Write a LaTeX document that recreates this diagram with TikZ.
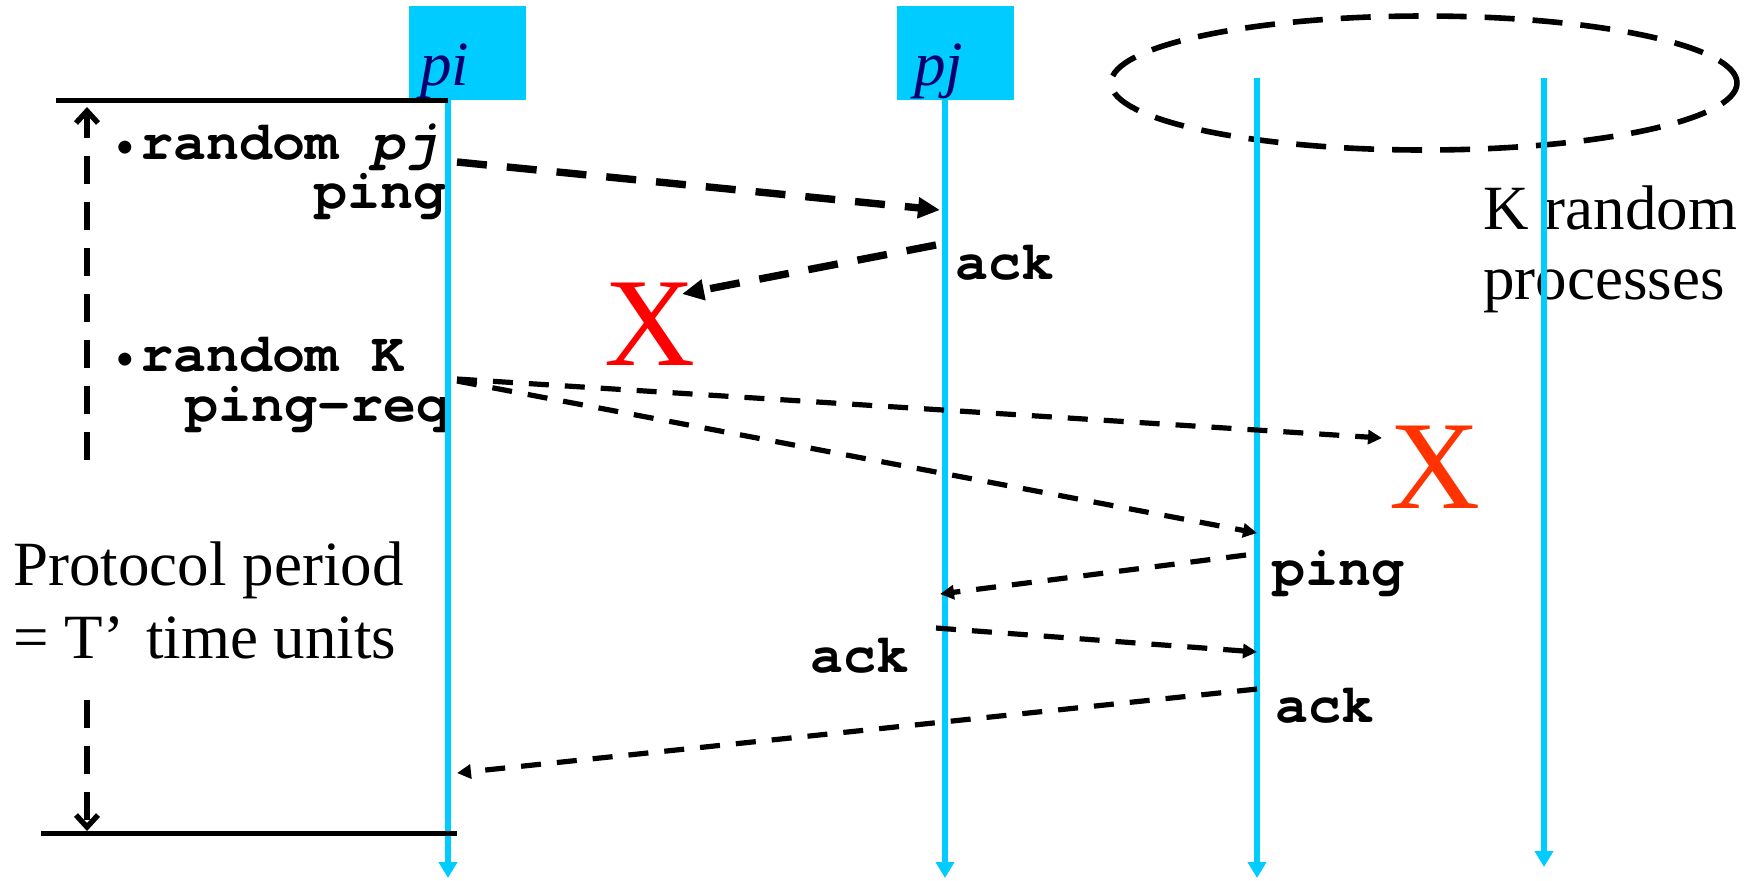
\documentclass[tikz,border=0pt]{standalone}
\usepackage{fontspec}
\setmainfont{Liberation Serif}
\setmonofont{TeX Gyre Cursor}
\usetikzlibrary{arrows.meta,shapes.geometric}
\definecolor{life}{RGB}{0,204,255}
\definecolor{navytext}{RGB}{0,0,110}
\definecolor{xred}{RGB}{255,0,0}
\definecolor{xorange}{RGB}{255,51,0}
\newcommand{\smallbul}{{\fontsize{18}{18}\selectfont\raisebox{2pt}{•}}\hspace{2pt}}
\begin{document}
\begin{tikzpicture}[x=0.5pt,y=-0.5pt,
  lifeline/.style={draw=life,line width=3pt,-{Triangle[length=8pt,width=9pt,fill=life]}},
  procbox/.style={fill=life,minimum width=58.5pt,minimum height=47pt,inner sep=0pt},
  proclabel/.style={font=\fontsize{31.5}{36}\selectfont\itshape,text=navytext,inner sep=0pt,anchor=base west},
  serif/.style={font=\fontsize{31.5}{36}\selectfont,inner sep=0pt,anchor=base west},
  code/.style={font=\fontsize{27.5}{32}\selectfont\ttfamily\bfseries,inner sep=0pt},
  bigx/.style={font=\fontsize{63}{70}\selectfont,inner sep=0pt},
  thickmsg/.style={line width=3.7pt,dash pattern=on 15pt off 10pt,-{Triangle[length=11pt,width=10pt]}},
  thinmsg/.style={line width=2.6pt,dash pattern=on 10pt off 8pt,-{Triangle[length=7pt,width=7pt]}},
  period/.style={line width=2.7pt,dash pattern=on 14pt off 9pt,-{Straight Barb[length=6pt,width=11pt,line width=2.7pt]}},
  bar/.style={line width=2.5pt},
  group/.style={draw,ellipse,line width=2.8pt,dash pattern=on 15pt off 9pt,minimum width=313pt,minimum height=67pt,inner sep=0pt}
]
\useasboundingbox (0,0) rectangle (1748,880);

% group of K random processes
\node[group] (grp) at (1424,83) {};

% texts
\node[serif] (krand) at (1483,229) {K random};
\node[serif] (kproc) at (1483,299) {processes};
\node[serif] (prot1) at (13,585) {Protocol period};
\node[serif] (prot2) at (13,658) {= T’\hspace{0.35em}time units};

\node[code,anchor=base west] (t1) at (114,159) {\smallbul random \textit{pj}};
\node[code,anchor=base east] (t2) at (447,208) {ping};
\node[code,anchor=base west] (t3) at (114,371) {\smallbul random K};
\node[code,anchor=base east] (t4) at (450,421) {ping-req};
\node[code,anchor=base west] (l1) at (955,279) {ack};
\node[code,anchor=base west] (l2) at (1272,585) {ping};
\node[code,anchor=base west] (l3) at (810,672) {ack};
\node[code,anchor=base west] (l4) at (1275,722) {ack};

% process boxes
\node[procbox] (pibox) at (467.5,53) {};
\node[procbox] (pjbox) at (955,53) {};
\node[proclabel] (pilab) at (420,85) {pi};
\node[proclabel] (pjlab) at (914,85) {pj};

% lifelines
\coordinate (pitop) at (448,100);
\coordinate (piend) at (448,878);
\coordinate (pjtop) at (945,100);
\coordinate (pjend) at (945,878);
\coordinate (ktop) at (1257,78);
\coordinate (kend) at (1257,878);
\coordinate (mtop) at (1544,78);
\coordinate (mend) at (1544,867);
\draw[lifeline] (pitop) -- (piend);
\draw[lifeline] (pjtop) -- (pjend);
\draw[lifeline] (ktop) -- (kend);
\draw[lifeline] (mtop) -- (mend);

% period bars
\coordinate (topL) at (56,100);
\coordinate (topR) at (448,100);
\coordinate (botL) at (41,833);
\coordinate (botR) at (457,833);
\draw[bar] (topL) -- (topR);
\draw[bar] (botL) -- (botR);

\coordinate (pa1) at (87,460);
\coordinate (pa2) at (87,107);
\coordinate (pb1) at (87,700);
\coordinate (pb2) at (87,831);
\draw[period] (pa1) -- (pa2);
\draw[period] (pb1) -- (pb2);

% messages
\coordinate (m1s) at (457,162);
\coordinate (m1e) at (940,210);
\coordinate (m2s) at (936,245);
\coordinate (m2e) at (682,294);
\draw[thickmsg] (m1s) -- (m1e);
\draw[thickmsg] (m2s) -- (m2e);

\coordinate (m3s) at (457,379);
\coordinate (m3e) at (1382,438);
\coordinate (m4s) at (457,381);
\coordinate (m4e) at (1257,533);
\coordinate (m5s) at (1246,555);
\coordinate (m5e) at (940,594);
\coordinate (m6s) at (936,628);
\coordinate (m6e) at (1257,652);
\coordinate (m7s) at (1257,689);
\coordinate (m7e) at (457,773);
\draw[thinmsg] (m3s) -- (m3e);
\draw[thinmsg] (m4s) -- (m4e);
\draw[thinmsg] (m5s) -- (m5e);
\draw[thinmsg] (m6s) -- (m6e);
\draw[thinmsg] (m7s) -- (m7e);

% failures
\node[bigx,text=xred] (x1) at (650,324) {X};
\node[bigx,text=xorange] (x2) at (1435,467) {X};
\end{tikzpicture}
\end{document}
